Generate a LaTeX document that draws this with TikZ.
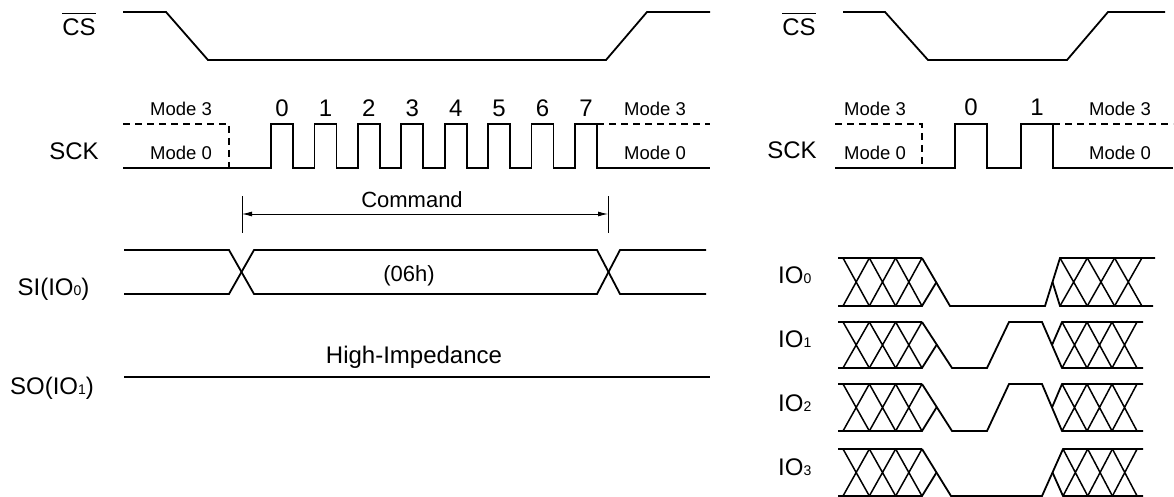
\documentclass[tikz,border=0pt]{standalone}
\usepackage{fontspec}
\setmainfont{Liberation Sans}
\usetikzlibrary{arrows.meta}
\tikzset{
  wave/.style = {line width=1.8pt},
  xing/.style = {line width=1.5pt},
  idle/.style = {line width=1.5pt, dash pattern=on 7pt off 5pt},
  dimarrow/.style = {{Latex[length=10pt,width=5pt]}-{Latex[length=10pt,width=5pt]}, line width=0.9pt},
  signame/.style = {font=\fontsize{24}{28}\selectfont, anchor=base, inner sep=0pt},
  modename/.style = {font=\fontsize{18.5}{22}\selectfont, anchor=base, inner sep=0pt},
  note/.style = {font=\fontsize{22}{26}\selectfont, anchor=base, inner sep=0pt}
}
\newcommand\sdig[1]{{\fontsize{14}{14}\selectfont #1}}
\newcommand\ovbar[1]{\leavevmode\vbox{\hrule height 1.3pt \kern 5pt \hbox{#1}}}

\begin{document}
\begin{tikzpicture}[x=1pt, y=-1pt]
    \useasboundingbox (0,0) rectangle (1174,497);

    % left diagram
    \node[signame] (cs-a)  at (79,36)    {\ovbar{CS}};
    \node[signame] (sck-a) at (74,160)   {SCK};
    \node[signame] (si-a)  at (53.5,295) {SI(IO\sdig{0})};
    \node[signame] (so-a)  at (52,394)   {SO(IO\sdig{1})};

    \draw[wave] (123,12) -- (166,12) -- (208,60) -- (606,60) -- (647,12) -- (710,12);

    \draw[idle] (123,124) -- (229,124) -- (229,168);
    \draw[idle] (597,124) -- (710,124);
    \draw[wave] (123,168) foreach \i in {0,...,7} { -- ({271+43.43*\i},168) -- ++(0,-44) -- ++(22,0) -- ++(0,44) } -- (710,168);
    \foreach \i in {0,...,7}
        \node[signame] (bit-a-\i) at ({282+43.43*\i},117) {\i};
    \node[modename] (m3-a-l) at (181,116) {Mode 3};
    \node[modename] (m0-a-l) at (181,160) {Mode 0};
    \node[modename] (m3-a-r) at (655,116) {Mode 3};
    \node[modename] (m0-a-r) at (655,160) {Mode 0};

    \coordinate (cmd-l) at (242,214);
    \coordinate (cmd-r) at (608,214);
    \draw[line width=0.9pt] (cmd-l) ++(0,-18) -- ++(0,37);
    \draw[line width=0.9pt] (cmd-r) ++(0,-18) -- ++(0,37);
    \draw[dimarrow] (cmd-l) -- (cmd-r);
    \node[note] (cmd) at (412,207) {Command};

    \draw[wave] (124,250) -- (229,250) -- (254,294) -- (597,294) -- (620,250) -- (706,250);
    \draw[wave] (124,294) -- (229,294) -- (254,250) -- (597,250) -- (620,294) -- (706,294);
    \node[note] (opcode) at (409,281) {(06h)};

    \draw[wave] (124,377) -- (710,377);
    \node[signame] (hiz) at (414,363) {High-Impedance};

    % right diagram
    \node[signame] (cs-b)  at (799,36)  {\ovbar{CS}};
    \node[signame] (sck-b) at (792,159) {SCK};
    \foreach \n/\y in {0/283,1/347,2/411,3/475}
        \node[signame, anchor=base west] (io-\n) at (778,\y) {IO\sdig{\n}};

    \draw[wave] (843,12) -- (885,12) -- (928,60) -- (1067,60) -- (1108,12) -- (1165,12);

    \draw[idle] (835,124) -- (922,124) -- (922,168);
    \draw[idle] (1053,124) -- (1173,124);
    \draw[wave] (835,168) foreach \x in {955,1021} { -- (\x,168) -- ++(0,-44) -- ++(32,0) -- ++(0,44) } -- (1173,168);
    \node[signame] (bit-b-0) at (971,116)  {0};
    \node[signame] (bit-b-1) at (1037,116) {1};
    \node[modename] (m3-b-l) at (875,116)  {Mode 3};
    \node[modename] (m0-b-l) at (875,160)  {Mode 0};
    \node[modename] (m3-b-r) at (1120,116) {Mode 3};
    \node[modename] (m0-b-r) at (1120,160) {Mode 0};

    % address bits, then dummy / data
    \foreach \T/\B in {258/306, 322/368, 384/431, 449/496} {
        \draw[wave] (838,\T) -- (922,\T);
        \draw[wave] (838,\B) -- (922,\B) -- (936.5,{(\T+\B)/2});
        \foreach \k in {0,1,2}
            \draw[xing] ({843+26.33*\k},\T) -- ({869.33+26.33*\k},\B)
                        ({843+26.33*\k},\B) -- ({869.33+26.33*\k},\T);
    }

    \draw[wave] (922,258) -- (950,306) -- (1045,306) -- (1060,258) -- (1155,258);
    \draw[wave] (1052.5,282) -- (1060,306) -- (1153,306);

    \foreach \T/\B in {322/368, 384/431} {
        \draw[wave] (922,\T) -- (952,\B) -- (987,\B) -- (1009,\T) -- (1042,\T) -- (1062,\B) -- (1143,\B);
        \draw[wave] (1052,{(\T+\B)/2}) -- (1062,\T) -- (1143,\T);
    }

    \draw[wave] (922,449) -- (951,496) -- (1042,496) -- (1063,449) -- (1143,449);
    \draw[wave] (1052.5,472.5) -- (1063,496) -- (1143,496);

    \foreach \T/\B/\xs/\w in {258/306/1060/27.3, 322/368/1062/25, 384/431/1062/25, 449/496/1063/24.7}
        \foreach \k in {0,1,2}
            \draw[xing] ({\xs+\w*\k},\T) -- ({\xs+\w*(\k+1)},\B)
                        ({\xs+\w*\k},\B) -- ({\xs+\w*(\k+1)},\T);
\end{tikzpicture}
\end{document}
